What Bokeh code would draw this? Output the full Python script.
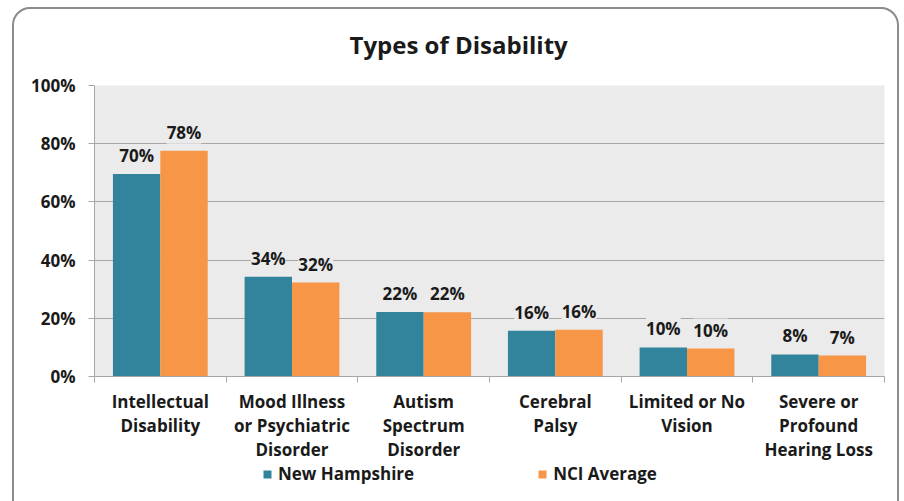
from bokeh.plotting import figure
from bokeh.layouts import column
from bokeh.models import (ColumnDataSource, Range1d, FixedTicker, LabelSet,
                          Legend, LegendItem)
from bokeh.core.properties import value
from bokeh.embed import file_html
from bokeh.resources import INLINE

# ---- data ----
categories = ["Intellectual\nDisability",
              "Mood Illness\nor Psychiatric\nDisorder",
              "Autism\nSpectrum\nDisorder",
              "Cerebral\nPalsy",
              "Limited or No\nVision",
              "Severe or\nProfound\nHearing Loss"]
series = ["New Hampshire", "NCI Average"]
new_hampshire = [69.6, 34.3, 22.2, 15.7, 10.0, 7.6]
nci_average = [77.6, 32.3, 22.1, 16.1, 9.6, 7.2]
y_ticks = [0, 20, 40, 60, 80, 100]
title_text = "Types of Disability"

# ---- style ----
TEAL = "#31849B"
ORANGE = "#F79646"
GRID = "#a6a6a6"
PLOT_BG = "#ebebeb"
TXT = "#1a1a1a"
FONT = "Open Sans"
FS = "17px"
BAR_W = 0.36
W = 904

n = len(categories)
centers = [i + 0.5 for i in range(n)]

p = figure(width=W, height=463, output_backend="svg", toolbar_location=None,
           x_range=Range1d(0, n), y_range=Range1d(0, 100),
           min_border_left=94, min_border_right=20, min_border_top=85,
           min_border_bottom=86,
           background_fill_color=PLOT_BG, border_fill_color="white",
           outline_line_color=None)

p.title.text = title_text
p.title.align = "left"
p.title.offset = 255
p.title.standoff = 50
p.title.text_font = FONT
p.title.text_font_size = "24px"
p.title.text_font_style = "bold"
p.title.text_color = TXT

src_nh = ColumnDataSource(dict(x=[c - BAR_W / 2 for c in centers], top=new_hampshire,
                               label=[f"{v:.0f}%" for v in new_hampshire]))
src_nci = ColumnDataSource(dict(x=[c + BAR_W / 2 for c in centers], top=nci_average,
                                label=[f"{v:.0f}%" for v in nci_average]))

r1 = p.vbar(x="x", top="top", width=BAR_W, bottom=0, source=src_nh,
            fill_color=TEAL, line_color=None)
r2 = p.vbar(x="x", top="top", width=BAR_W, bottom=0, source=src_nci,
            fill_color=ORANGE, line_color=None)

for src in (src_nh, src_nci):
    p.add_layout(LabelSet(x="x", y="top", text="label", source=src,
                          text_align="center", text_baseline="alphabetic",
                          y_offset=12, text_font=value(FONT),
                          text_font_size=value(FS),
                          text_font_style="bold", text_color=TXT,
                          background_fill_color=PLOT_BG))

# axes
xa = p.xaxis[0]
xa.ticker = FixedTicker(ticks=centers, minor_ticks=list(range(n + 1)))
xa.major_label_overrides = {c: lab for c, lab in zip(centers, categories)}
xa.major_tick_line_color = None
xa.major_tick_in = 0
xa.major_tick_out = 6
xa.minor_tick_in = 0
xa.minor_tick_out = 6
xa.minor_tick_line_color = GRID
xa.axis_line_color = GRID
xa.major_label_standoff = 7
xa.major_label_text_font = FONT
xa.major_label_text_font_size = FS
xa.major_label_text_font_style = "bold"
xa.major_label_text_color = TXT
xa.major_label_text_line_height = 1.05

ya = p.yaxis[0]
ya.ticker = FixedTicker(ticks=y_ticks)
ya.major_label_overrides = {t: f"{t}%" for t in y_ticks}
ya.major_tick_in = 0
ya.major_tick_out = 6
ya.major_tick_line_color = GRID
ya.minor_tick_line_color = None
ya.axis_line_color = GRID
ya.major_label_standoff = 13
ya.major_label_text_font = FONT
ya.major_label_text_font_size = FS
ya.major_label_text_font_style = "bold"
ya.major_label_text_color = TXT

p.xgrid.grid_line_color = None
p.ygrid.grid_line_color = GRID
p.ygrid.level = "underlay"

# ---- legend strip (separate small figure; keys are zero-height placeholders) ----
q = figure(width=W, height=46, output_backend="svg", toolbar_location=None,
           x_range=Range1d(0, 1), y_range=Range1d(0, 1),
           min_border=0, outline_line_color=None,
           background_fill_alpha=0, border_fill_alpha=0,
           margin=(-8, 0, 0, 0))
q.axis.visible = False
q.grid.visible = False
k1 = q.vbar(x=[-5], top=[0], width=0.1, fill_color=TEAL, line_color=None)
k2 = q.vbar(x=[-5], top=[0], width=0.1, fill_color=ORANGE, line_color=None)
legend = Legend(items=[LegendItem(label=series[0], renderers=[k1]),
                       LegendItem(label=series[1], renderers=[k2])],
                orientation="horizontal", location=(168, 16), spacing=123,
                glyph_width=10, glyph_height=10, label_standoff=6,
                label_height=16,
                label_text_font=FONT, label_text_font_size=FS,
                label_text_font_style="bold", label_text_color=TXT,
                border_line_color=None, background_fill_alpha=0,
                margin=0, padding=0)
q.add_layout(legend)

frame_css = """
:host { position: relative; overflow: hidden; }
:host::after {
  content: ""; position: absolute; top: 7px; left: 12px; right: 5px; bottom: -30px;
  border: 2px solid #8c8c8c; border-radius: 18px; pointer-events: none; z-index: 10;
}
"""
layout = column(p, q, spacing=0, stylesheets=[frame_css])
open("out.html", "w").write(file_html(layout, INLINE))
